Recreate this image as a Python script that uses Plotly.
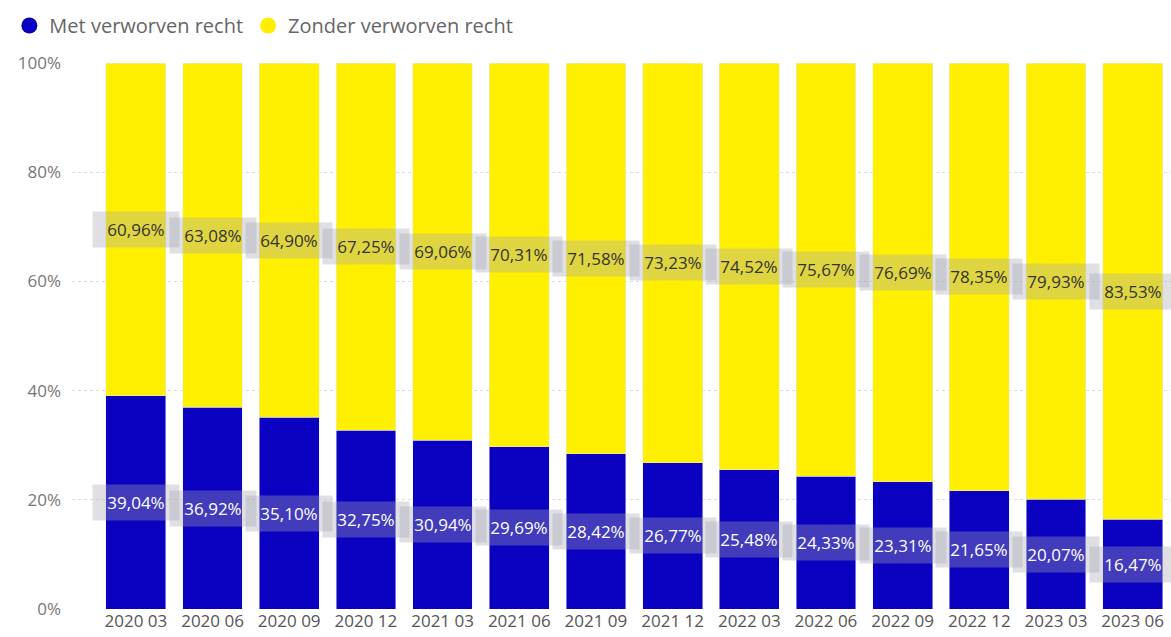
import plotly.graph_objects as go

categories = ["2020 03", "2020 06", "2020 09", "2020 12", "2021 03", "2021 06", "2021 09",
              "2021 12", "2022 03", "2022 06", "2022 09", "2022 12", "2023 03", "2023 06"]
met = [39.04, 36.92, 35.10, 32.75, 30.94, 29.69, 28.42, 26.77, 25.48, 24.33, 23.31, 21.65, 20.07, 16.47]
zonder = [60.96, 63.08, 64.90, 67.25, 69.06, 70.31, 71.58, 73.23, 74.52, 75.67, 76.69, 78.35, 79.93, 83.53]
y_ticks = [0, 20, 40, 60, 80, 100]
y_tick_labels = ["0%", "20%", "40%", "60%", "80%", "100%"]

BLUE = "#0A00C0"
YELLOW = "#FFEF00"
FONT = "Segoe UI, Open Sans, sans-serif"

fig = go.Figure()
fig.add_trace(go.Bar(x=categories, y=met, marker_color=BLUE, name="Met verworven recht",
                     showlegend=False, hoverinfo="skip"))
fig.add_trace(go.Bar(x=categories, y=zonder, marker_color=YELLOW, name="Zonder verworven recht",
                     showlegend=False, hoverinfo="skip"))
# legend entries with circle symbols
fig.add_trace(go.Scatter(x=[None], y=[None], mode="markers", name="Met verworven recht",
                         marker=dict(color=BLUE, size=17, symbol="circle")))
fig.add_trace(go.Scatter(x=[None], y=[None], mode="markers", name="Zonder verworven recht",
                         marker=dict(color=YELLOW, size=17, symbol="circle")))

def fmt(v):
    return f"{v:.2f}%".replace(".", ",")

annotations = []
for c, m, z in zip(categories, met, zonder):
    annotations.append(dict(x=c, y=m / 2, text=fmt(m), showarrow=False,
                            font=dict(color="white", size=17, family=FONT),
                            bgcolor="rgba(165,165,180,0.36)", borderpad=6, width=74))
    annotations.append(dict(x=c, y=m + z / 2, text=fmt(z), showarrow=False,
                            font=dict(color="#333333", size=17, family=FONT),
                            bgcolor="rgba(165,165,180,0.36)", borderpad=6, width=74))

fig.update_layout(
    width=1171, height=637,
    barmode="stack", bargap=0.22,
    paper_bgcolor="white", plot_bgcolor="white",
    margin=dict(l=72, r=0, t=63, b=28),
    font=dict(family=FONT, color="#666666"),
    annotations=annotations,
    legend=dict(orientation="h", xref="container", yref="container", x=0.008, y=0.96,
                xanchor="left", yanchor="middle", font=dict(size=20, color="#666666"),
                itemwidth=30, tracegroupgap=0, traceorder="normal"),
    xaxis=dict(range=[-0.833, 13.5], showgrid=False, zeroline=False, showline=False,
               tickfont=dict(size=17, color="#555555"), ticks="", ticklen=0),
    yaxis=dict(range=[0, 100], tickmode="array", tickvals=y_ticks, ticktext=y_tick_labels,
               showgrid=True, gridcolor="#dddddd", griddash="dot", gridwidth=1,
               zeroline=False, showline=False,
               tickfont=dict(size=17, color="#777777"), ticklabelstandoff=10),
)

fig.write_html("out.html")
